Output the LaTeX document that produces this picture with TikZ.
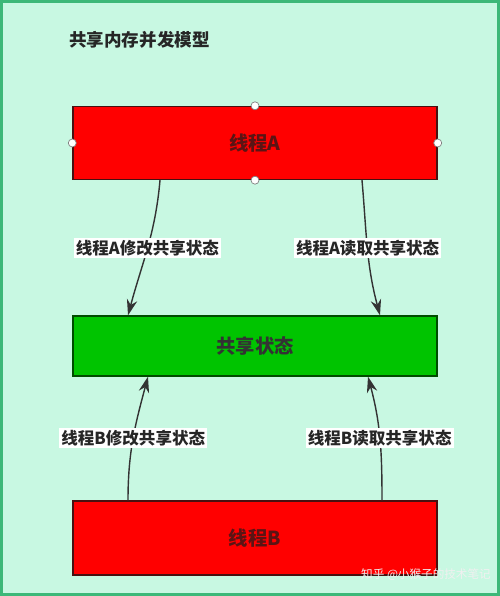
\documentclass[tikz,border=0pt]{standalone}
\usepackage{fontspec}
\setmainfont{Noto Sans CJK SC}
\usetikzlibrary{arrows.meta}
\definecolor{bgmint}{HTML}{C8F8E2}
\definecolor{bgedge}{HTML}{3CB878}
\definecolor{boxred}{HTML}{FF0000}
\definecolor{boxgreen}{HTML}{00C400}
\definecolor{redtext}{HTML}{5A1414}
\definecolor{linkgray}{HTML}{333333}
\tikzset{
  thread/.style={draw=redtext!80!black, fill=boxred, line width=0.8pt, minimum width=7.28cm, font=\bfseries\fontsize{11}{13}\selectfont, text=redtext},
  shared/.style={draw=black!70!green, fill=boxgreen, line width=0.8pt, minimum width=7.28cm, minimum height=1.2cm, font=\bfseries\fontsize{11}{13}\selectfont, text=black!80},
  link/.style={linkgray, line width=0.8pt},
  tag/.style={fill=white, inner sep=1.2pt, text=black!85, font=\bfseries\fontsize{9.4}{11}\selectfont},
  handle/.style={shape=circle, draw=gray, fill=white, inner sep=0pt, minimum size=0.16cm}
}
\begin{document}
\begin{tikzpicture}[>={Stealth[length=9pt,width=6pt]}]
\draw[fill=bgmint, draw=bgedge, line width=1.5pt] (0.03,0.03) rectangle (9.97,11.89);
\useasboundingbox (0,0) rectangle (10,11.92);

\node[anchor=west, font=\bfseries\fontsize{10}{12}\selectfont, text=black!85] (title) at (1.26, 11.12) {共享内存并发模型};

\node[thread, minimum height=1.46cm] (TA) at (5.1, 9.06) {线程A};
\node[shared] (S) at (5.1, 5.0) {共享状态};
\node[thread, minimum height=1.48cm] (TB) at (5.1, 1.16) {线程B};

\draw[->, link] ([xshift=-1.9cm]TA.south) to[out=-95, in=75] node[tag] {线程A修改共享状态} ([xshift=-2.54cm]S.north);
\draw[->, link] ([xshift=2.14cm]TA.south) to[out=-85, in=105] node[tag] {线程A读取共享状态} ([xshift=2.5cm]S.north);
\draw[->, link] ([xshift=-2.54cm]TB.north) to[out=90, in=-105] node[tag] {线程B修改共享状态} ([xshift=-2.14cm]S.south);
\draw[->, link] ([xshift=2.54cm]TB.north) to[out=90, in=-75] node[tag] {线程B读取共享状态} ([xshift=2.26cm]S.south);

% selection handles on thread A
\node[handle] (hN) at (TA.north) {};
\node[handle] (hS) at (TA.south) {};
\node[handle] (hW) at (TA.west) {};
\node[handle] (hE) at (TA.east) {};

\node[text=white!88!gray, font=\fontsize{6.6}{8}\selectfont] (mark) at (8.52, 0.42) {知乎 @小猴子的技术笔记};
\end{tikzpicture}
\end{document}
